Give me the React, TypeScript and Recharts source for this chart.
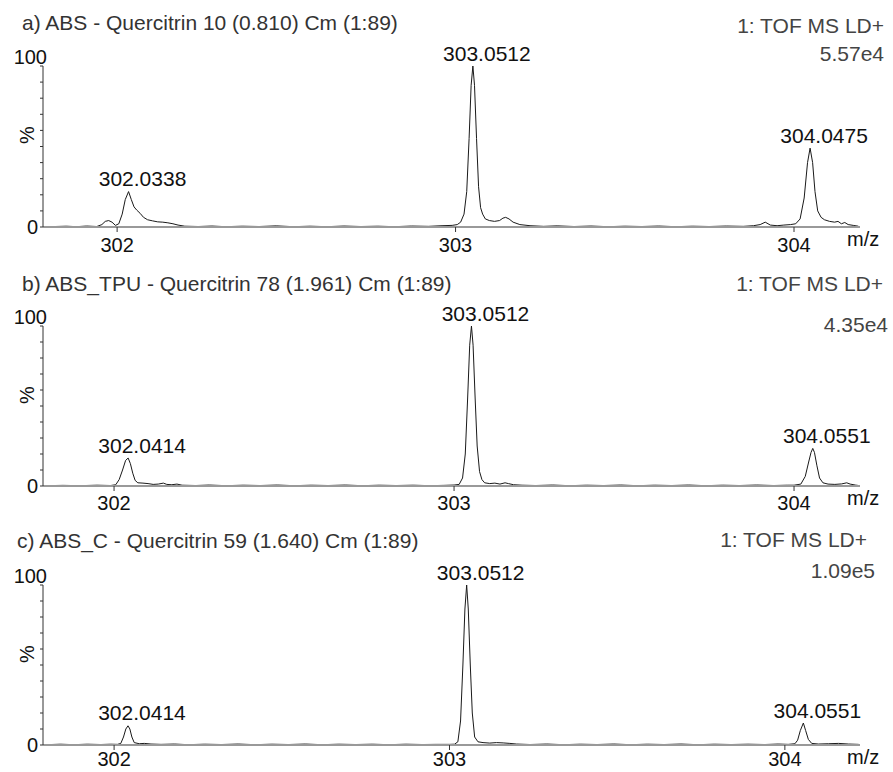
import React from "react";
import {
  LineChart,
  Line,
  XAxis,
  YAxis,
  LabelList,
  ReferenceLine,
} from "recharts";

// Spectrum traces as [m/z, relative intensity %]
const traceA: [number, number][] = [
  [301.8, 0.2], [301.85, 0.5], [301.88, 0.2], [301.91, 0.6], [301.94, 0.3],
  [301.955, 1.5], [301.965, 3.5], [301.975, 4], [301.985, 3], [301.995, 1],
  [302.005, 2], [302.015, 8], [302.024, 17], [302.0338, 22], [302.042, 17],
  [302.05, 12.5], [302.058, 10.5], [302.068, 8.5], [302.078, 6], [302.09, 4.5],
  [302.105, 3.8], [302.12, 3.2], [302.135, 3], [302.15, 2.6], [302.165, 2],
  [302.18, 1.2], [302.2, 0.5], [302.24, 0.3], [302.28, 0.6], [302.32, 0.2],
  [302.37, 0.5], [302.42, 0.3], [302.47, 0.7], [302.52, 0.2], [302.57, 0.5],
  [302.62, 0.2], [302.67, 0.6], [302.72, 0.3], [302.77, 0.5], [302.82, 0.2],
  [302.87, 0.6], [302.92, 0.4], [302.96, 0.8], [302.99, 1], [303.005, 1.5],
  [303.015, 3], [303.025, 8], [303.033, 22], [303.04, 55], [303.046, 88],
  [303.0512, 100], [303.056, 88], [303.062, 55], [303.068, 25], [303.074, 12],
  [303.08, 8], [303.088, 5], [303.1, 4], [303.115, 3.5], [303.13, 4],
  [303.14, 5.5], [303.148, 6], [303.158, 5], [303.17, 3], [303.19, 1.5],
  [303.22, 0.8], [303.26, 0.4], [303.3, 0.7], [303.35, 0.3], [303.4, 0.6],
  [303.45, 0.2], [303.5, 0.5], [303.55, 0.3], [303.6, 0.6], [303.65, 0.2],
  [303.7, 0.5], [303.75, 0.3], [303.8, 0.6], [303.85, 0.4], [303.88, 0.8],
  [303.9, 1.5], [303.915, 3], [303.93, 1.2], [303.95, 0.8], [303.97, 1.2],
  [303.99, 1.5], [304.005, 2], [304.018, 5], [304.03, 18], [304.04, 40],
  [304.0475, 49], [304.055, 40], [304.062, 22], [304.07, 10], [304.08, 6],
  [304.09, 4.5], [304.105, 3.5], [304.12, 3], [304.13, 3.5], [304.14, 2],
  [304.15, 2.8], [304.16, 1.5], [304.175, 1], [304.19, 0.5],
];

const traceB: [number, number][] = [
  [301.8, 0.2], [301.85, 0.4], [301.9, 0.2], [301.95, 0.5], [301.99, 0.3],
  [302.005, 0.8], [302.015, 4], [302.025, 10], [302.034, 16], [302.0414, 17.5],
  [302.048, 14], [302.055, 8], [302.062, 3.5], [302.07, 2], [302.085, 1.8],
  [302.1, 1.5], [302.115, 1], [302.13, 1.2], [302.145, 1.8], [302.155, 1],
  [302.17, 0.8], [302.185, 1.2], [302.2, 0.5], [302.24, 0.3], [302.28, 0.6],
  [302.33, 0.2], [302.38, 0.5], [302.43, 0.3], [302.48, 0.6], [302.53, 0.2],
  [302.58, 0.5], [302.63, 0.3], [302.68, 0.6], [302.73, 0.2], [302.78, 0.5],
  [302.83, 0.3], [302.88, 0.5], [302.93, 0.2], [302.97, 0.4], [303.0, 0.6],
  [303.015, 1], [303.025, 5], [303.033, 20], [303.04, 55], [303.046, 88],
  [303.0512, 100], [303.056, 88], [303.062, 55], [303.068, 25], [303.075, 9],
  [303.082, 4], [303.09, 2], [303.105, 1.5], [303.12, 1.8], [303.135, 1.2],
  [303.15, 2], [303.16, 1.5], [303.175, 0.8], [303.2, 0.5], [303.24, 0.3],
  [303.29, 0.6], [303.34, 0.2], [303.39, 0.5], [303.44, 0.3], [303.49, 0.6],
  [303.54, 0.2], [303.59, 0.5], [303.64, 0.3], [303.69, 0.6], [303.74, 0.2],
  [303.79, 0.5], [303.84, 0.3], [303.89, 0.6], [303.94, 0.3], [303.98, 0.5],
  [304.0, 0.5], [304.02, 1.2], [304.033, 6], [304.043, 15], [304.05, 21],
  [304.0551, 23.5], [304.06, 21], [304.067, 13], [304.075, 5], [304.085, 2],
  [304.1, 1.2], [304.12, 1], [304.14, 1.3], [304.155, 2], [304.165, 1.2],
  [304.18, 0.6], [304.19, 0.3],
];

const traceC: [number, number][] = [
  [301.8, 0.2], [301.84, 0.5], [301.88, 0.2], [301.92, 0.5], [301.96, 0.3],
  [301.99, 0.5], [302.01, 0.4], [302.02, 1], [302.028, 5], [302.035, 10],
  [302.0414, 12], [302.047, 10], [302.053, 5], [302.06, 1.5], [302.075, 0.8],
  [302.09, 1], [302.11, 0.6], [302.14, 0.4], [302.18, 0.6], [302.22, 0.2],
  [302.27, 0.5], [302.32, 0.3], [302.37, 0.6], [302.42, 0.2], [302.47, 0.5],
  [302.52, 0.3], [302.57, 0.6], [302.62, 0.2], [302.67, 0.5], [302.72, 0.3],
  [302.77, 0.5], [302.82, 0.2], [302.87, 0.5], [302.92, 0.3], [302.96, 0.4],
  [303.0, 0.4], [303.015, 0.5], [303.025, 2], [303.033, 15], [303.04, 50],
  [303.046, 85], [303.0512, 100], [303.056, 85], [303.062, 50], [303.068, 20],
  [303.075, 5], [303.085, 2], [303.1, 1.5], [303.12, 1.2], [303.14, 1.5],
  [303.16, 1.3], [303.18, 1], [303.2, 0.6], [303.24, 0.3], [303.29, 0.6],
  [303.34, 0.2], [303.39, 0.5], [303.44, 0.3], [303.49, 0.6], [303.54, 0.2],
  [303.59, 0.5], [303.64, 0.3], [303.69, 0.6], [303.74, 0.2], [303.79, 0.5],
  [303.84, 0.3], [303.89, 0.5], [303.94, 0.3], [303.98, 0.6], [304.01, 0.4],
  [304.03, 0.8], [304.038, 3], [304.046, 9], [304.0551, 13.75], [304.062, 9],
  [304.07, 3.5], [304.08, 1], [304.1, 0.6], [304.13, 0.8], [304.16, 1],
  [304.19, 0.6], [304.22, 0.4],
];

// Labelled centroid masses
const peaksA = [302.0338, 303.0512, 304.0475];
const peaksB = [302.0414, 303.0512, 304.0551];
const peaksC = [302.0414, 303.0512, 304.0551];

const titles = [
  "a) ABS - Quercitrin 10 (0.810) Cm (1:89)",
  "b) ABS_TPU - Quercitrin 78 (1.961) Cm (1:89)",
  "c) ABS_C - Quercitrin 59 (1.640) Cm (1:89)",
];
const scanMode = "1: TOF MS LD+";
const intensities = ["5.57e4", "4.35e4", "1.09e5"];
const mzTicks = [302, 303, 304];
const pctTicks = [0, 10, 20, 30, 40, 50, 60, 70, 80, 90, 100];

const FONT = '"Liberation Sans", Arial, sans-serif';
const CHART_H = 263;

interface PanelLayout {
  top: number;
  domain: [number, number];
  axisH: number;
  tickGap: number;
  titleX: number;
  titleY: number;
  modeRight: number;
  modeY: number;
  intRight: number;
  intY: number;
}

const layouts: PanelLayout[] = [
  { top: 0, domain: [301.781, 304.195], axisH: 26, tickGap: 6, titleX: 22, titleY: 23, modeRight: 884, modeY: 26, intRight: 884, intY: 54 },
  { top: 260, domain: [301.791, 304.194], axisH: 27, tickGap: 5, titleX: 22, titleY: 24, modeRight: 883, modeY: 24, intRight: 888, intY: 65 },
  { top: 519, domain: [301.788, 304.224], axisH: 27, tickGap: 2, titleX: 17, titleY: 22, modeRight: 867, modeY: 21, intRight: 875, intY: 52 },
];

function buildRows(trace: [number, number][], peaks: number[]) {
  return trace.map(([mz, pct]) => ({
    mz,
    pct,
    tag: peaks.includes(mz) ? mz.toFixed(4) : undefined,
  }));
}

function YTick(props: any) {
  const { x, y, payload } = props;
  if (payload.value === 100) {
    return (
      <text x={x + 9} y={y - 9} textAnchor="end" dominantBaseline="central" fontSize={20} fill="#111" fontFamily={FONT}>
        100
      </text>
    );
  }
  if (payload.value === 0) {
    return (
      <text x={x} y={y} textAnchor="end" dominantBaseline="central" fontSize={20} fill="#111" fontFamily={FONT}>
        0
      </text>
    );
  }
  return null;
}

function PeakLabel(props: any) {
  const { x, y, value } = props;
  if (!value) return null;
  return (
    <text x={x + 14} y={y - 13} textAnchor="middle" dominantBaseline="central" fontSize={21} fill="#111" fontFamily={FONT}>
      {value}
    </text>
  );
}

function PctLabel(props: any) {
  const { viewBox } = props;
  const cx = viewBox.x + viewBox.width - 16;
  const cy = viewBox.y + 69;
  return (
    <text x={cx} y={cy} transform={`rotate(-90 ${cx} ${cy})`} textAnchor="middle" dominantBaseline="central" fontSize={20} fill="#111" fontFamily={FONT}>
      %
    </text>
  );
}

function MzLabel(props: any) {
  const { viewBox } = props;
  return (
    <text x={viewBox.x + viewBox.width - 13} y={viewBox.y + 12} dominantBaseline="central" fontSize={20} fill="#111" fontFamily={FONT}>
      m/z
    </text>
  );
}

function Panel({ index, trace, peaks }: { index: number; trace: [number, number][]; peaks: number[] }) {
  const lay = layouts[index];
  const rows = buildRows(trace, peaks);
  const textStyle: React.CSSProperties = {
    position: "absolute",
    fontFamily: FONT,
    fontSize: 21,
    lineHeight: "20px",
    whiteSpace: "nowrap",
    color: "#333",
  };
  return (
    <div style={{ position: "absolute", left: 0, top: lay.top, width: 893, height: CHART_H }}>
      <LineChart width={893} height={CHART_H} data={rows} margin={{ top: 66, right: 33, bottom: 10, left: 0 }}>
        <XAxis
          dataKey="mz"
          type="number"
          domain={lay.domain}
          ticks={mzTicks}
          allowDataOverflow
          height={lay.axisH}
          axisLine={{ stroke: "#999", strokeWidth: 2 }}
          tickLine={{ stroke: "#333" }}
          tickSize={5}
          tickMargin={lay.tickGap}
          tick={{ fontSize: 20, fill: "#111", fontFamily: FONT }}
          label={<MzLabel />}
        />
        <YAxis
          width={43}
          domain={[0, 100]}
          ticks={pctTicks}
          interval={0}
          axisLine={{ stroke: "#333" }}
          tickLine={{ stroke: "#333" }}
          tickSize={3}
          tick={<YTick />}
          label={<PctLabel />}
        />
        <Line
          dataKey="pct"
          type="linear"
          stroke="#1a1a1a"
          strokeWidth={1}
          dot={false}
          isAnimationActive={false}
        >
          <LabelList dataKey="tag" content={<PeakLabel />} />
        </Line>
        <ReferenceLine y={0} stroke="#999" strokeWidth={2} />
      </LineChart>
      <div style={{ ...textStyle, left: lay.titleX, top: lay.titleY - 10 }}>{titles[index]}</div>
      <div style={{ ...textStyle, right: 893 - lay.modeRight, top: lay.modeY - 10, color: "#444" }}>{scanMode}</div>
      <div style={{ ...textStyle, right: 893 - lay.intRight, top: lay.intY - 10, color: "#444" }}>{intensities[index]}</div>
    </div>
  );
}

export default function App() {
  return (
    <div style={{ position: "absolute", left: 0, top: 0, width: 893, height: 772, background: "#fff", overflow: "hidden" }}>
      <Panel index={0} trace={traceA} peaks={peaksA} />
      <Panel index={1} trace={traceB} peaks={peaksB} />
      <Panel index={2} trace={traceC} peaks={peaksC} />
    </div>
  );
}
